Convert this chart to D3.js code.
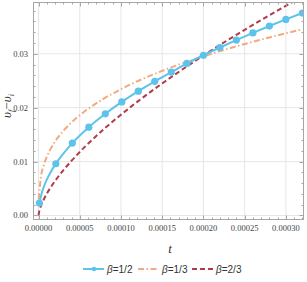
<!DOCTYPE html>
<html><head><meta charset="utf-8">
<script src="https://cdn.jsdelivr.net/npm/d3@7"></script>
<style>body{margin:0;background:#fff}svg{display:block}</style>
</head><body>
<svg id="c" width="307" height="282"></svg>
<script>
// ---- data ----
const seriesNames = ["β=1/2", "β=1/3", "β=2/3"];
const seriesColors = ["#5ec3ea", "#f2aa80", "#b33a4b"];

// β=1/2 markers
const halfMarkT = [0.000001,0.000021,0.000041,0.000061,0.000081,0.000101,0.000121,0.000141,0.000161,0.00018,0.0002,0.00022,0.00024,0.00026,0.00028,0.0003,0.00032];
const halfMarkV = [0.0023,0.0096,0.01343,0.01638,0.01887,0.02107,0.02306,0.0249,0.0266,0.02821,0.02973,0.03117,0.03255,0.03387,0.03515,0.03638,0.03757];
// β=1/2 extra curve points between first markers
const halfExtraT = [0.000003,0.000006,0.00001,0.000015];
const halfExtraV = [0.00364,0.00514,0.00664,0.00813];

// β=1/3 curve
const thirdT = [0.0000002,0.000003,0.000006,0.00001,0.000015,0.00002,0.00003,0.00004,0.00005,0.00006,0.00008,0.0001,0.00012,0.00014,0.00016,0.00018,0.0002,0.00022,0.00024,0.00026,0.00028,0.0003,0.00032];
const thirdV = [0.003,0.00728,0.00918,0.01088,0.01245,0.01371,0.01569,0.01727,0.0186,0.01977,0.02176,0.02344,0.02491,0.02622,0.02742,0.02851,0.02953,0.03049,0.03138,0.03223,0.03304,0.03381,0.03454];

// β=2/3 curve
const twoThirdT = [0,0.000001,0.000003,0.000006,0.00001,0.000015,0.00002,0.00003,0.00004,0.00005,0.00006,0.00008,0.0001,0.00012,0.00014,0.00016,0.00018,0.0002,0.00022,0.00024,0.00026,0.00028,0.0003,0.00032];
const twoThirdV = [0,0.00087,0.00181,0.00287,0.00403,0.00528,0.0064,0.00838,0.01015,0.01178,0.0133,0.01612,0.0187,0.02112,0.0234,0.02558,0.02767,0.02969,0.03164,0.03352,0.03536,0.03715,0.0389,0.04061];

const xTicks = [0,0.00005,0.0001,0.00015,0.0002,0.00025,0.0003];
const xTickLabels = ["0.00000","0.00005","0.00010","0.00015","0.00020","0.00025","0.00030"];
const yTicks = [0,0.01,0.02,0.03];
const yTickLabels = ["0.00","0.01","0.02","0.03"];

// ---- layout ----
const L = 33, R = 304, T = 2, B = 220;
const x = d3.scaleLinear().domain([-0.0000067, 0.000322]).range([L, R]);
const y = d3.scaleLinear().domain([-0.000835, 0.03961]).range([B, T]);

const svg = d3.select("#c");
const frameCol = "#a6a6a6";

// grid
const g = svg.append("g");
g.selectAll(".gx").data(xTicks).join("line")
  .attr("x1", d => x(d)).attr("x2", d => x(d)).attr("y1", T).attr("y2", B)
  .attr("stroke", "#e6e6e6").attr("stroke-width", 1);
g.selectAll(".gy").data(yTicks).join("line")
  .attr("y1", d => y(d)).attr("y2", d => y(d)).attr("x1", L).attr("x2", R)
  .attr("stroke", "#e6e6e6").attr("stroke-width", 1);

// clip
svg.append("clipPath").attr("id", "clip").append("rect")
  .attr("x", L).attr("y", T).attr("width", R - L).attr("height", B - T);
const plot = svg.append("g").attr("clip-path", "url(#clip)");

const line = d3.line().x(d => x(d[0])).y(d => y(d[1])).curve(d3.curveMonotoneX);

const half = halfMarkT.map((t, i) => [t, halfMarkV[i]])
  .concat(halfExtraT.map((t, i) => [t, halfExtraV[i]]))
  .sort((a, b) => a[0] - b[0]);
const third = thirdT.map((t, i) => [t, thirdV[i]]);
const twoThird = twoThirdT.map((t, i) => [t, twoThirdV[i]]);

plot.append("path").attr("d", line(third)).attr("fill", "none")
  .attr("stroke", seriesColors[1]).attr("stroke-width", 2)
  .attr("stroke-dasharray", "6,2.5,1.5,2.5");
plot.append("path").attr("d", line(twoThird)).attr("fill", "none")
  .attr("stroke", seriesColors[2]).attr("stroke-width", 2)
  .attr("stroke-dasharray", "5,3");
plot.append("path").attr("d", line(half)).attr("fill", "none")
  .attr("stroke", seriesColors[0]).attr("stroke-width", 2);
plot.selectAll(".m").data(halfMarkT).join("circle")
  .attr("cx", d => x(d)).attr("cy", (d, i) => y(halfMarkV[i])).attr("r", 3.6)
  .attr("fill", seriesColors[0]);

// frame
svg.append("rect").attr("x", L + 0.5).attr("y", T + 0.5)
  .attr("width", R - L - 1).attr("height", B - T - 1)
  .attr("fill", "none").attr("stroke", frameCol).attr("stroke-width", 1);

// ticks
const xMinor = d3.range(0, 0.000322, 0.00001).filter(v => Math.abs(v / 0.00005 - Math.round(v / 0.00005)) > 1e-6);
const yMinor = d3.range(0, 0.0396, 0.002).filter(v => Math.abs(v / 0.01 - Math.round(v / 0.01)) > 1e-6);
const tk = svg.append("g").attr("stroke", frameCol).attr("stroke-width", 1);
function xt(vals, len) {
  vals.forEach(v => {
    const px = Math.round(x(v)) + 0.5;
    tk.append("line").attr("x1", px).attr("x2", px).attr("y1", B).attr("y2", B - len);
    tk.append("line").attr("x1", px).attr("x2", px).attr("y1", T).attr("y2", T + len);
  });
}
function yt(vals, len) {
  vals.forEach(v => {
    const py = Math.round(y(v)) + 0.5;
    tk.append("line").attr("y1", py).attr("y2", py).attr("x1", L).attr("x2", L + len);
    tk.append("line").attr("y1", py).attr("y2", py).attr("x1", R).attr("x2", R - len);
  });
}
xt(xTicks, 4.5); xt(xMinor, 2.5);
yt(yTicks, 4.5); yt(yMinor, 2.5);

// tick labels
const tf = "'Liberation Serif', 'DejaVu Serif', serif";
svg.append("g").selectAll("text").data(xTicks).join("text")
  .attr("x", d => x(d)).attr("y", 231)
  .attr("text-anchor", "middle").attr("font-family", tf).attr("font-size", 8.5)
  .attr("fill", "#444").text((d, i) => xTickLabels[i]);
svg.append("g").selectAll("text").data(yTicks).join("text")
  .attr("x", 28).attr("y", d => y(d) + 3)
  .attr("text-anchor", "end").attr("font-family", tf).attr("font-size", 8.5)
  .attr("fill", "#444").text((d, i) => yTickLabels[i]);

// axis labels
svg.append("text").attr("x", 170).attr("y", 253).attr("text-anchor", "middle")
  .attr("font-family", tf).attr("font-style", "italic").attr("font-size", 13)
  .attr("fill", "#333").text("t");
const yl = svg.append("text").attr("transform", "translate(11,106) rotate(-90)")
  .attr("text-anchor", "middle").attr("font-family", tf).attr("font-style", "italic")
  .attr("font-size", 13).attr("fill", "#333");
yl.append("tspan").text("υ");
yl.append("tspan").attr("font-size", 8).attr("dy", 2.5).text("f");
yl.append("tspan").attr("dy", -2.5).attr("font-style", "normal").text("−");
yl.append("tspan").text("υ");
yl.append("tspan").attr("font-size", 8).attr("dy", 2.5).text("i");

// legend
const legX = [83, 138, 192];
const lg = svg.append("g");
seriesNames.forEach((name, i) => {
  const lx = legX[i], ly = 269;
  const ln = lg.append("line").attr("x1", lx).attr("x2", lx + 21).attr("y1", ly).attr("y2", ly)
    .attr("stroke", seriesColors[i]).attr("stroke-width", 2);
  if (i === 1) ln.attr("stroke-dasharray", "6,2.5,1.5,2.5");
  if (i === 2) ln.attr("stroke-dasharray", "5,3");
  if (i === 0) lg.append("circle").attr("cx", lx + 11).attr("cy", ly).attr("r", 2.3).attr("fill", seriesColors[i]);
  const t = lg.append("text").attr("x", lx + 24).attr("y", ly + 3.6)
    .attr("font-family", "'Liberation Sans', Arial, sans-serif").attr("font-size", 10).attr("fill", "#333");
  t.append("tspan").attr("font-style", "italic").text(name.slice(0, 1));
  t.append("tspan").text(name.slice(1));
});
</script>
</body></html>
